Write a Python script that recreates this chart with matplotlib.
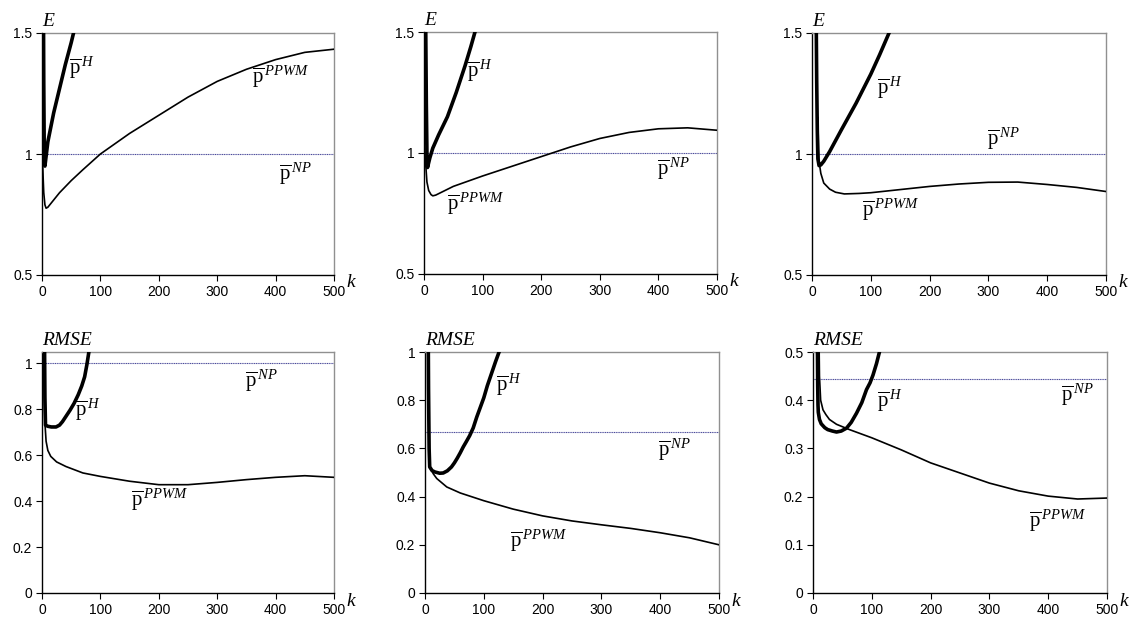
import matplotlib.pyplot as plt
from matplotlib.ticker import FormatStrFormatter

plt.rcParams['font.family'] = 'Liberation Sans'
plt.rcParams['mathtext.fontset'] = 'custom'
plt.rcParams['mathtext.rm'] = 'Liberation Serif'
plt.rcParams['mathtext.it'] = 'Liberation Serif:italic'

# ---- E, first case
k_e1_h = [1, 2, 3, 4, 5, 7, 10, 15, 20, 30, 40, 50, 55, 58]
e1_h = [3.0, 1.9, 1.3, 0.96, 0.95, 0.99, 1.05, 1.11, 1.17, 1.27, 1.37, 1.46, 1.51, 1.55]
k_e1_p = [1, 2, 3, 5, 7, 10, 15, 20, 30, 42, 50, 70, 100, 150, 200, 250, 300, 350, 400, 450, 500]
e1_p = [0.97, 0.90, 0.84, 0.79, 0.776, 0.78, 0.795, 0.81, 0.84, 0.87, 0.89, 0.935, 1.0,
        1.085, 1.16, 1.235, 1.30, 1.35, 1.39, 1.42, 1.433]

# ---- E, second case
k_e2_h = [1, 2, 3, 4, 5, 6, 8, 10, 15, 25, 40, 55, 70, 80, 87, 90]
e2_h = [3.0, 2.0, 1.5, 1.2, 1.0, 0.94, 0.96, 0.98, 1.02, 1.075, 1.15, 1.25, 1.36, 1.44, 1.5, 1.52]
k_e2_p = [1, 3, 5, 8, 12, 15, 20, 25, 50, 100, 150, 200, 250, 300, 350, 400, 450, 500]
e2_p = [1.02, 0.95, 0.88, 0.845, 0.828, 0.823, 0.826, 0.832, 0.862, 0.905, 0.945, 0.985,
        1.025, 1.06, 1.085, 1.10, 1.104, 1.094]

# ---- E, third case
k_e3_h = [5, 6, 7, 8, 9, 10, 12, 15, 20, 30, 50, 75, 100, 115, 131, 135]
e3_h = [3.0, 2.0, 1.6, 1.3, 1.1, 0.98, 0.952, 0.955, 0.97, 1.01, 1.10, 1.21, 1.33, 1.41, 1.5, 1.53]
k_e3_p = [10, 11, 12, 15, 20, 30, 40, 55, 80, 100, 150, 200, 250, 300, 350, 400, 450, 500]
e3_p = [1.15, 1.02, 0.97, 0.92, 0.88, 0.855, 0.842, 0.835, 0.837, 0.84, 0.853, 0.866,
        0.876, 0.883, 0.884, 0.874, 0.862, 0.845]

# ---- RMSE, first case
k_r1_h = [3, 4, 5, 6, 10, 16, 24, 30, 35, 41, 48, 55, 62, 68, 73, 77, 81]
r1_h = [2.0, 1.2, 0.85, 0.73, 0.725, 0.722, 0.722, 0.73, 0.745, 0.768, 0.795, 0.825,
        0.862, 0.9, 0.94, 0.995, 1.06]
k_r1_p = [3, 4, 5, 7, 10, 15, 25, 41, 70, 100, 150, 200, 250, 300, 350, 400, 450, 500]
r1_p = [1.2, 0.85, 0.74, 0.66, 0.62, 0.594, 0.57, 0.55, 0.522, 0.507, 0.486, 0.471,
        0.471, 0.481, 0.493, 0.503, 0.51, 0.503]

# ---- RMSE, second case
k_r2_h = [4, 5, 6, 7, 8, 12, 17, 25, 31, 38, 45, 50, 55, 60, 65, 70, 76, 82, 88, 94, 100,
          106, 113, 120, 126, 130]
r2_h = [2.0, 1.3, 0.85, 0.6, 0.523, 0.508, 0.502, 0.497, 0.498, 0.507, 0.523, 0.54, 0.56,
        0.582, 0.606, 0.627, 0.653, 0.685, 0.73, 0.77, 0.81, 0.86, 0.91, 0.96, 1.0, 1.03]
k_r2_p = [4, 5, 6, 7, 8, 10, 14, 20, 37, 60, 100, 150, 200, 250, 300, 350, 400, 450, 500]
r2_p = [2.0, 1.2, 0.8, 0.6, 0.53, 0.515, 0.495, 0.475, 0.44, 0.415, 0.383, 0.348, 0.32,
        0.299, 0.283, 0.268, 0.25, 0.229, 0.2]

# ---- RMSE, third case
k_r3_h = [6, 7, 8, 8.5, 9, 11, 14, 20, 25, 33, 40, 48, 57, 65, 74, 83, 91, 97, 102, 108,
          113, 117]
r3_h = [1.0, 0.6, 0.43, 0.39, 0.375, 0.36, 0.351, 0.343, 0.339, 0.336, 0.334, 0.336, 0.342,
        0.354, 0.373, 0.395, 0.422, 0.436, 0.452, 0.476, 0.5, 0.52]
k_r3_p = [9, 10, 11, 13, 17, 22, 28, 40, 62, 100, 150, 200, 250, 300, 350, 400, 450, 500]
r3_p = [0.8, 0.55, 0.45, 0.40, 0.38, 0.37, 0.36, 0.35, 0.339, 0.322, 0.297, 0.27, 0.249,
        0.228, 0.212, 0.201, 0.195, 0.197]

# naive predictor level in each panel
np_level = [1.0, 1.0, 1.0, 1.0, 0.667, 0.445]

# label anchors (k, value) for H, PPWM and NP
lbl_h = [(46, 1.332), (73, 1.317), (111, 1.248), (57, 0.772), (121, 0.841), (109, 0.386)]
lbl_p = [(359, 1.293), (40, 0.766), (85, 0.744), (153, 0.381), (144, 0.191), (367, 0.138)]
lbl_np = [(406, 0.893), (398, 0.91), (297, 1.038), (348, 0.896), (396, 0.571), (422, 0.40)]

panels = [
    (k_e1_h, e1_h, k_e1_p, e1_p),
    (k_e2_h, e2_h, k_e2_p, e2_p),
    (k_e3_h, e3_h, k_e3_p, e3_p),
    (k_r1_h, r1_h, k_r1_p, r1_p),
    (k_r2_h, r2_h, k_r2_p, r2_p),
    (k_r3_h, r3_h, k_r3_p, r3_p),
]

ylims = [(0.5, 1.5), (0.5, 1.5), (0.5, 1.5), (0, 1.048), (0, 1.0), (0, 0.5)]
yticks = [[0.5, 1, 1.5], [0.5, 1, 1.5], [0.5, 1, 1.5],
          [0, 0.2, 0.4, 0.6, 0.8, 1], [0, 0.2, 0.4, 0.6, 0.8, 1],
          [0, 0.1, 0.2, 0.3, 0.4, 0.5]]
ylabels = ['E', 'E', 'E', 'RMSE', 'RMSE', 'RMSE']

# axes boxes in pixels: left, right, top, bottom
W, H = 1131, 618
boxes = [(42, 334, 33, 275), (424, 717, 32, 274), (812, 1106, 33, 275),
         (42, 334, 352, 593), (425, 719, 352, 593), (813, 1107, 352, 593)]

frame_gray = '#909090'
np_color = '#4a4a9a'

fig = plt.figure(figsize=(W / 100, H / 100), dpi=100)
fig.patch.set_facecolor('white')

for i, (kh, vh, kp, vp) in enumerate(panels):
    l, r, t, b = boxes[i]
    ax = fig.add_axes([l / W, 1 - b / H, (r - l) / W, (b - t) / H])

    ax.axhline(np_level[i], color=np_color, lw=0.8, ls=(0, (1, 0.6)), zorder=2)
    ax.plot(kp, vp, color='black', lw=1.2, zorder=3)
    ax.plot(kh, vh, color='black', lw=2.6, zorder=4, solid_joinstyle='round')

    ax.set_xlim(0, 500)
    ax.set_ylim(*ylims[i])
    ax.set_xticks([0, 100, 200, 300, 400, 500])
    ax.set_yticks(yticks[i])
    ax.yaxis.set_major_formatter(FormatStrFormatter('%g'))
    ax.tick_params(direction='out', length=4, width=0.8, labelsize=10, pad=3, colors='black')

    ax.spines['left'].set_color('black')
    ax.spines['bottom'].set_color('black')
    ax.spines['top'].set_color(frame_gray)
    ax.spines['right'].set_color(frame_gray)
    for s in ax.spines.values():
        s.set_linewidth(1.0)

    # curve labels
    mk = dict(fontsize=15, ha='left', va='baseline', zorder=5)
    ax.text(*lbl_h[i], r'$\overline{\mathrm{p}}^{\,H}$', **mk)
    ax.text(*lbl_p[i], r'$\overline{\mathrm{p}}^{\,PPWM}$', **mk)
    ax.text(*lbl_np[i], r'$\overline{\mathrm{p}}^{\,NP}$', **mk)

    # axis names
    fig.text(l / W, 1 - (t - 3) / H, ylabels[i], family='Liberation Serif', style='italic',
             fontsize=14, ha='left', va='bottom')
    fig.text((r + 12) / W, 1 - (b + 8) / H, 'k', family='Liberation Serif', style='italic',
             fontsize=14, ha='left', va='center')

plt.savefig('out.png', dpi=100, facecolor=fig.get_facecolor())
